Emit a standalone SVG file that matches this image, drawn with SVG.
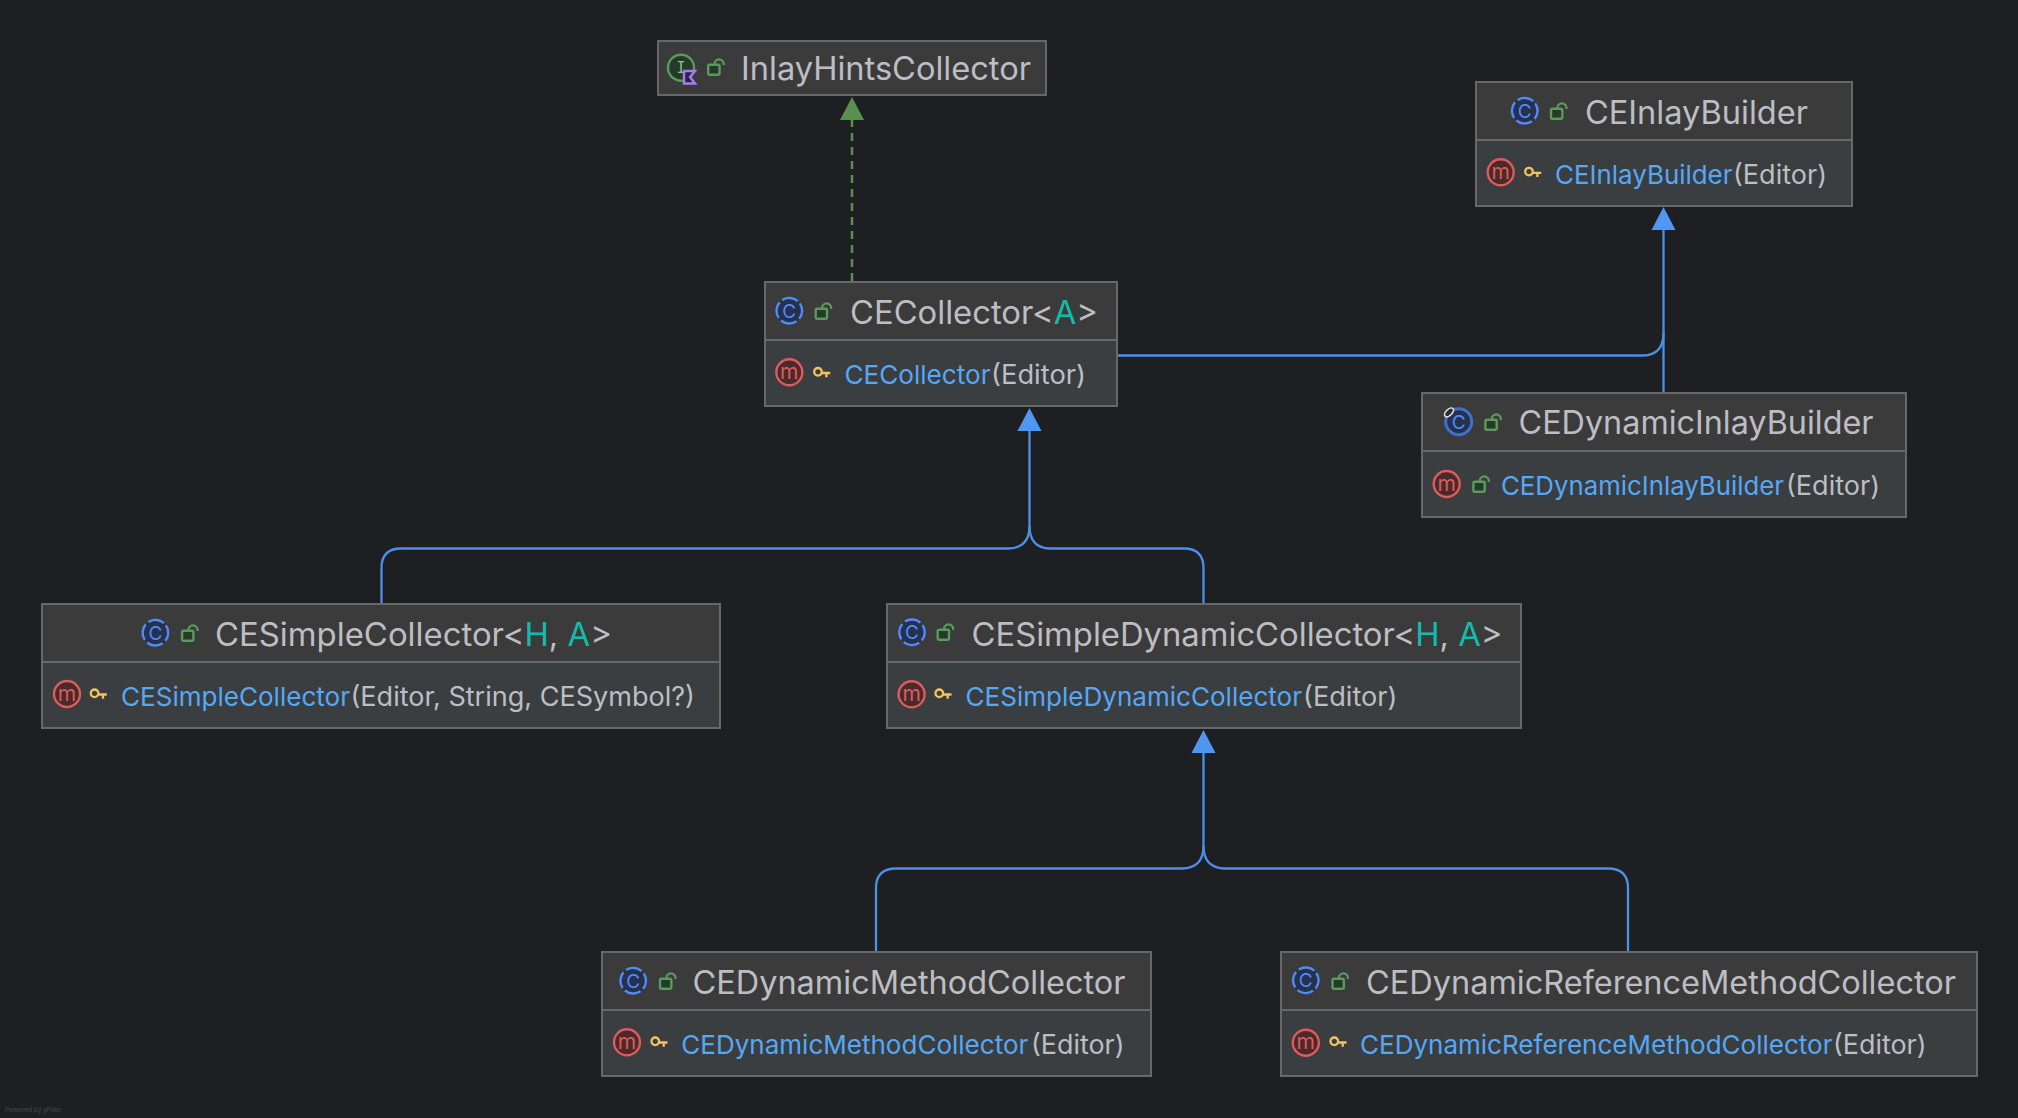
<svg xmlns="http://www.w3.org/2000/svg" width="2018" height="1118" viewBox="0 0 2018 1118">
<style>
.head{fill:#3c3b3b}.body{fill:#3b3e41}.box{fill:none;stroke:#686868;stroke-width:2}.div{stroke:#686868;stroke-width:2}
text{font-family:Inter,"Noto Sans",sans-serif}
.t{font-size:32px;fill:#bcbec4}.m{font-size:26.500px;fill:#bcbec4}.n{font-size:26.200px;fill:#56a8f5}.g{fill:#16baac}
.l{fill:none;stroke:#4d8fe8;stroke-width:2.300}.i{fill:none;stroke:#5b8f4f;stroke-width:2.500;stroke-dasharray:8 6}
.ci{font-size:19px;fill:#548af7;text-anchor:middle}.mi{font-size:21px;fill:#db5c5c;text-anchor:middle}.ii{font-size:15px;fill:#8fbf8f;text-anchor:middle;font-family:"DejaVu Sans Mono",monospace}
</style>
<defs>
<marker id="ab" markerUnits="userSpaceOnUse" markerWidth="24" markerHeight="26" viewBox="0 -13 24 26" refX="0" refY="0" orient="auto"><path d="M0-12L23 0L0 12Z" fill="#4f97f3"/></marker>
<marker id="ag" markerUnits="userSpaceOnUse" markerWidth="24" markerHeight="26" viewBox="0 -13 24 26" refX="0" refY="0" orient="auto"><path d="M0-12L23 0L0 12Z" fill="#5b8f4f"/></marker>
<g id="cls"><circle r="12.800" fill="#25324d" stroke="#548af7" stroke-width="2.400" stroke-dasharray="16.500 3.600" transform="rotate(-35)"/><text class="ci" y="7">C</text></g>
<g id="dyn"><circle r="13" fill="#25324d" stroke="#3f6fd0" stroke-width="3"/><text class="ci" y="7">C</text><ellipse cx="-9.700" cy="-9.300" rx="5.500" ry="3" transform="rotate(-45 -9.700 -9.300)" fill="#2b2d30" stroke="#dfe1e5" stroke-width="1.600"/></g>
<g id="mth"><circle r="13" fill="#4a2a2b" stroke="#db5c5c" stroke-width="2.400"/><text class="mi" y="6.500">m</text></g>
<g id="lock"><rect x="-7.300" y="-2.300" width="11.300" height="10" rx="1.500" fill="#253a28" stroke="#5a9a5b" stroke-width="2.400"/><path d="M-1-2.300V-3A4.600 4.600 0 0 1 8.200-3V-2" fill="none" stroke="#5a9a5b" stroke-width="2.200"/></g>
<g id="key" fill="none" stroke="#f2c55c" stroke-width="2.300"><circle cx="-3.700" cy="-0.700" r="3.800"/><path d="M0 0.500H8.500M4.700 0.500V4.800"/></g>
</defs>
<rect width="2018" height="1118" fill="#1e1f22"/>

<g id="connectors">
<path class="i" d="M852 281V120" marker-end="url(#ag)"/>
<path class="l" d="M381.500 603V568Q381.500 548.500 401 548.500H1008Q1029.500 548 1029.500 526V431" marker-end="url(#ab)"/>
<path class="l" d="M1203.500 603V568Q1203.500 548.500 1184 548.500H1050Q1029.500 548 1029.500 526"/>
<path class="l" d="M876 951V888Q876 868.500 896 868.500H1182Q1203.500 868 1203.500 846V753" marker-end="url(#ab)"/>
<path class="l" d="M1628 951V888Q1628 868.500 1608 868.500H1225Q1203.500 868 1203.500 846"/>
<path class="l" d="M1663.500 392V230" marker-end="url(#ab)"/>
<path class="l" d="M1117 355.500H1643Q1663.500 355 1663.500 333"/>
</g>

<g id="node-inlayhintscollector">
<rect class="head" x="658" y="41" width="388" height="54"/><rect class="box" x="658" y="41" width="388" height="54"/>
<circle cx="681" cy="67.700" r="13" fill="#253a28" stroke="#5a9a5b" stroke-width="2.400"/><text class="ii" x="681" y="73">I</text>
<path d="M684 71H695L690 77L695 83.500H684Z" fill="#2b2540" stroke="#a87cf0" stroke-width="2.400"/>
<use href="#lock" x="715.500" y="67"/>
<text class="t" x="741" y="80" textLength="290" lengthAdjust="spacingAndGlyphs">InlayHintsCollector</text>
</g>

<g id="node-cecollector">
<rect class="head" x="765" y="282" width="352" height="58"/><rect class="body" x="765" y="340" width="352" height="66"/><rect class="box" x="765" y="282" width="352" height="124"/><path class="div" d="M765 340H1117"/>
<use href="#cls" x="789.300" y="310.700"/><use href="#lock" x="823" y="311"/>
<text class="t" x="850" y="323.500" textLength="248" lengthAdjust="spacingAndGlyphs">CECollector<tspan>&lt;</tspan><tspan class="g">A</tspan><tspan>&gt;</tspan></text>
<use href="#mth" x="789.300" y="372.300"/><use href="#key" x="821.700" y="372.500"/>
<text class="n" x="844.500" y="384" textLength="146" lengthAdjust="spacingAndGlyphs">CECollector</text><text class="m" x="991" y="384" textLength="95" lengthAdjust="spacingAndGlyphs">(Editor)</text>
</g>

<g id="node-ceinlaybuilder">
<rect class="head" x="1476" y="82" width="376" height="58"/><rect class="body" x="1476" y="140" width="376" height="66"/><rect class="box" x="1476" y="82" width="376" height="124"/><path class="div" d="M1476 140H1852"/>
<use href="#cls" x="1524.700" y="110.700"/><use href="#lock" x="1558.300" y="111"/>
<text class="t" x="1585" y="123.500" textLength="223" lengthAdjust="spacingAndGlyphs">CEInlayBuilder</text>
<use href="#mth" x="1500.700" y="172.300"/><use href="#key" x="1532.700" y="172.300"/>
<text class="n" x="1555" y="184" textLength="177.500" lengthAdjust="spacingAndGlyphs">CEInlayBuilder</text><text class="m" x="1733" y="184" textLength="94" lengthAdjust="spacingAndGlyphs">(Editor)</text>
</g>

<g id="node-cedynamicinlaybuilder">
<rect class="head" x="1422" y="393" width="484" height="58"/><rect class="body" x="1422" y="451" width="484" height="66"/><rect class="box" x="1422" y="393" width="484" height="124"/><path class="div" d="M1422 451H1906"/>
<use href="#dyn" x="1458.700" y="421.700"/><use href="#lock" x="1492.700" y="422"/>
<text class="t" x="1518.500" y="434" textLength="355" lengthAdjust="spacingAndGlyphs">CEDynamicInlayBuilder</text>
<use href="#mth" x="1446.700" y="484"/><use href="#lock" x="1480.700" y="484"/>
<text class="n" x="1501" y="495" textLength="283" lengthAdjust="spacingAndGlyphs">CEDynamicInlayBuilder</text><text class="m" x="1786" y="495" textLength="94" lengthAdjust="spacingAndGlyphs">(Editor)</text>
</g>

<g id="node-cesimplecollector">
<rect class="head" x="42" y="604" width="678" height="58"/><rect class="body" x="42" y="662" width="678" height="66"/><rect class="box" x="42" y="604" width="678" height="124"/><path class="div" d="M42 662H720"/>
<use href="#cls" x="155.400" y="632.700"/><use href="#lock" x="189.400" y="633"/>
<text class="t" x="215" y="645.500" textLength="397" lengthAdjust="spacingAndGlyphs">CESimpleCollector<tspan>&lt;</tspan><tspan class="g">H</tspan><tspan>, </tspan><tspan class="g">A</tspan><tspan>&gt;</tspan></text>
<use href="#mth" x="67" y="694"/><use href="#key" x="98.300" y="694"/>
<text class="n" x="121" y="706" textLength="229" lengthAdjust="spacingAndGlyphs">CESimpleCollector</text><text class="m" x="350.500" y="706" textLength="344.500" lengthAdjust="spacingAndGlyphs">(Editor, String, CESymbol?)</text>
</g>

<g id="node-cesimpledynamiccollector">
<rect class="head" x="887" y="604" width="634" height="58"/><rect class="body" x="887" y="662" width="634" height="66"/><rect class="box" x="887" y="604" width="634" height="124"/><path class="div" d="M887 662H1521"/>
<use href="#cls" x="912" y="632.300"/><use href="#lock" x="945" y="632"/>
<text class="t" x="971.500" y="645.500" textLength="531" lengthAdjust="spacingAndGlyphs">CESimpleDynamicCollector<tspan>&lt;</tspan><tspan class="g">H</tspan><tspan>, </tspan><tspan class="g">A</tspan><tspan>&gt;</tspan></text>
<use href="#mth" x="911.600" y="694.300"/><use href="#key" x="943" y="694"/>
<text class="n" x="965.500" y="706" textLength="336.500" lengthAdjust="spacingAndGlyphs">CESimpleDynamicCollector</text><text class="m" x="1303" y="706" textLength="94.500" lengthAdjust="spacingAndGlyphs">(Editor)</text>
</g>

<g id="node-cedynamicmethodcollector">
<rect class="head" x="602" y="952" width="549" height="58"/><rect class="body" x="602" y="1010" width="549" height="66"/><rect class="box" x="602" y="952" width="549" height="124"/><path class="div" d="M602 1010H1151"/>
<use href="#cls" x="633.200" y="980.700"/><use href="#lock" x="667.300" y="981"/>
<text class="t" x="692.500" y="993.500" textLength="433" lengthAdjust="spacingAndGlyphs">CEDynamicMethodCollector</text>
<use href="#mth" x="627" y="1042.300"/><use href="#key" x="659" y="1042"/>
<text class="n" x="681.300" y="1053.500" textLength="347" lengthAdjust="spacingAndGlyphs">CEDynamicMethodCollector</text><text class="m" x="1031" y="1053.500" textLength="93.500" lengthAdjust="spacingAndGlyphs">(Editor)</text>
</g>

<g id="node-cedynamicreferencemethodcollector">
<rect class="head" x="1281" y="952" width="696" height="58"/><rect class="body" x="1281" y="1010" width="696" height="66"/><rect class="box" x="1281" y="952" width="696" height="124"/><path class="div" d="M1281 1010H1977"/>
<use href="#cls" x="1305.800" y="980.300"/><use href="#lock" x="1339.800" y="981"/>
<text class="t" x="1366" y="993.500" textLength="590" lengthAdjust="spacingAndGlyphs">CEDynamicReferenceMethodCollector</text>
<use href="#mth" x="1305.800" y="1042.700"/><use href="#key" x="1338" y="1042"/>
<text class="n" x="1360" y="1053.500" textLength="472.500" lengthAdjust="spacingAndGlyphs">CEDynamicReferenceMethodCollector</text><text class="m" x="1833" y="1053.500" textLength="93.500" lengthAdjust="spacingAndGlyphs">(Editor)</text>
</g>

<text x="5" y="1112" font-size="6.500" fill="#46474a">Powered by yFiles</text>
</svg>
